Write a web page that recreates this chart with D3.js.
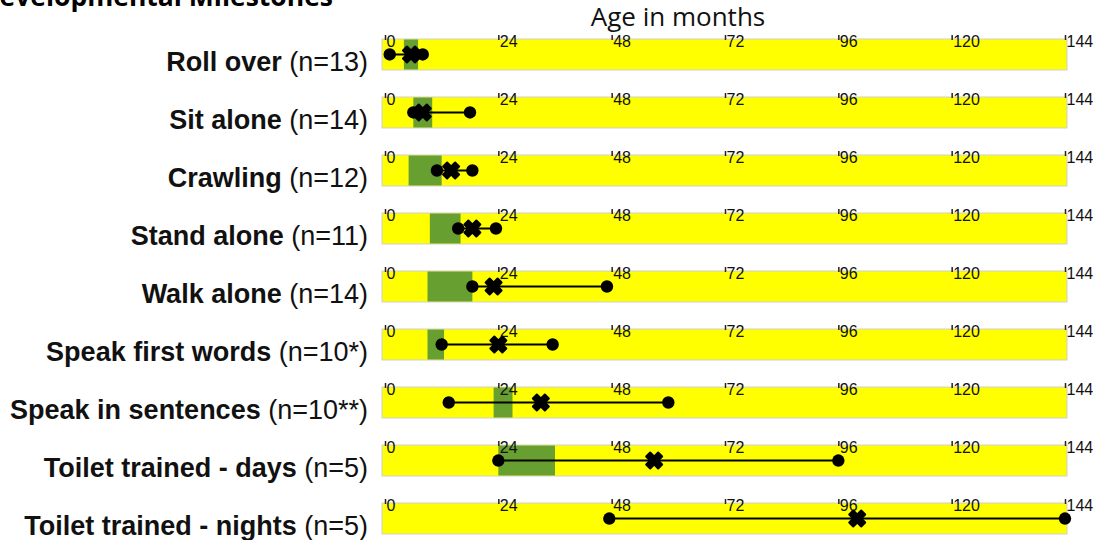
<!DOCTYPE html>
<html lang="en">
<head>
    <meta charset="UTF-8">
    <title>Developmental Milestones</title>
    <style>
        body { margin: 0; background: #fff; }
        .row-label { font-family: "Liberation Sans", Arial, sans-serif; font-size: 27px; fill: #111; }
        .tick line { stroke: #222; stroke-width: 1.5px; }
    </style>
    <script src="https://d3js.org/d3.v7.min.js"></script>
</head>
<body>
    <svg width="1094" height="540"></svg>
    <script>
        // Data (ages in months)
        const milestones = ["Roll over", "Sit alone", "Crawling", "Stand alone", "Walk alone",
            "Speak first words", "Speak in sentences", "Toilet trained - days", "Toilet trained - nights"];
        const sampleSizes = ["(n=13)", "(n=14)", "(n=12)", "(n=11)", "(n=14)", "(n=10*)", "(n=10**)", "(n=5)", "(n=5)"];
        // typical age range (green band)
        const normStart = [4, 6, 5, 9.5, 9, 9, 23, 24, null];
        const normEnd = [7, 10, 12, 16, 18.5, 12.5, 27, 36, null];
        // observed ages: earliest, median, latest
        const minAge = [1, 6, 11, 15.5, 18.5, 12, 13.5, 24, 47.5];
        const medianAge = [5.5, 8, 14, 18.5, 23, 24, 33, 57, 100];
        const maxAge = [8, 18, 18.5, 23.5, 47, 35.5, 60, 96, 144];
        const ageTicks = [0, 24, 48, 72, 96, 120, 144];

        const width = 1094;
        const height = 540;
        const svg = d3.select("svg");

        const x = d3.scaleLinear().domain([0, 144]).range([385, 1065]);
        const y = d3.scaleBand().domain(milestones).range([39, 534]).paddingInner(0.466).paddingOuter(0);
        const bw = y.bandwidth();

        const rows = milestones.map((name, i) => ({
            name, n: sampleSizes[i], s: normStart[i], e: normEnd[i],
            min: minAge[i], med: medianAge[i], max: maxAge[i]
        }));

        // titles
        svg.append("text")
            .attr("x", 333).attr("y", 6)
            .attr("text-anchor", "end")
            .style("font-family", "'Open Sans', sans-serif")
            .style("font-weight", "bold").style("font-size", "26.5px")
            .text("Developmental Milestones");

        svg.append("text")
            .attr("x", 678).attr("y", 26)
            .attr("text-anchor", "middle")
            .style("font-family", "'Open Sans', sans-serif")
            .style("font-size", "26px").style("fill", "#111")
            .text("Age in months");

        const row = svg.append("g").selectAll("g")
            .data(rows)
            .enter().append("g")
            .attr("transform", d => `translate(0,${y(d.name)})`);

        // yellow background bar
        row.append("rect")
            .attr("x", x(0) - 3)
            .attr("width", x(144) - x(0) + 5)
            .attr("height", bw)
            .attr("fill", "#ffff00")
            .attr("stroke", "#cfcfcf")
            .attr("stroke-width", 1);

        // green band: typical range
        row.filter(d => d.s != null).append("rect")
            .attr("x", d => x(d.s))
            .attr("width", d => x(d.e) - x(d.s))
            .attr("y", 0.5)
            .attr("height", bw - 1)
            .attr("fill", "#67a030");

        // axis per row
        row.append("g")
            .attr("transform", "translate(0,-4)")
            .call(d3.axisBottom(x).tickValues(ageTicks).tickSize(5).tickSizeOuter(0))
            .call(g => g.select(".domain").remove())
            .call(g => g.selectAll(".tick text")
                .attr("text-anchor", "start")
                .attr("x", 1).attr("y", 11.5).attr("dy", 0)
                .style("font-family", "'Liberation Sans', Arial, sans-serif")
                .style("font-size", "16px")
                .style("fill", "#111"));

        // range line
        row.append("line")
            .attr("x1", d => x(d.min)).attr("x2", d => x(d.max))
            .attr("y1", bw / 2).attr("y2", bw / 2)
            .attr("stroke", "#000").attr("stroke-width", 2);

        row.selectAll("circle")
            .data(d => [d.min, d.max])
            .enter().append("circle")
            .attr("cx", v => x(v)).attr("cy", bw / 2)
            .attr("r", 6.2).attr("fill", "#000");

        // median marker: heavy X
        const cross = d3.symbol().type(d3.symbolCross).size(160);
        row.append("path")
            .attr("d", cross)
            .attr("transform", d => `translate(${x(d.med)},${bw / 2}) rotate(45)`)
            .attr("fill", "#000")
            .attr("stroke", "#000")
            .attr("stroke-width", 2)
            .attr("stroke-linejoin", "round");

        // row labels
        const lab = row.append("text")
            .attr("class", "row-label")
            .attr("x", 368).attr("y", bw + 1)
            .attr("text-anchor", "end");
        lab.append("tspan").style("font-weight", "bold").text(d => d.name);
        lab.append("tspan").text(d => " " + d.n);
    </script>
</body>
</html>
